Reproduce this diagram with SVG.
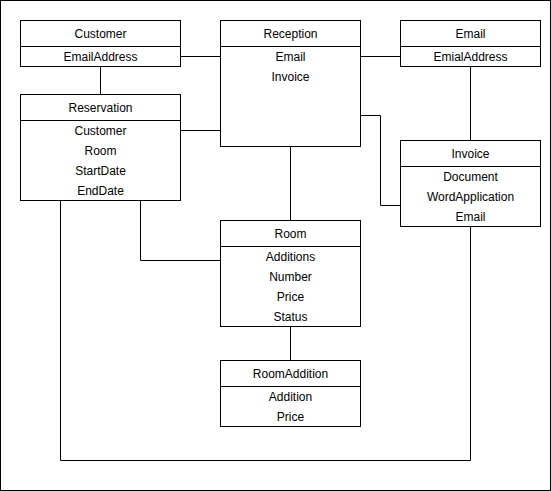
<svg xmlns="http://www.w3.org/2000/svg" width="551" height="491" viewBox="0 0 551 491">
<style>
rect.box{fill:#ffffff;stroke:#000000;stroke-width:1}
line,path{stroke:#000000;stroke-width:1;fill:none}
text{font-family:"Liberation Sans",Arial,sans-serif;font-size:12px;fill:#000000;text-anchor:middle;dominant-baseline:central}
</style>
<rect x="0.5" y="0.5" width="550" height="490" fill="#ffffff" stroke="#000000"/>
<g id="connectors">
<path d="M180.5 56.5H220.5"/>
<path d="M100.5 66.5V94.5"/>
<path d="M180.5 130.5H220.5"/>
<path d="M360.5 56.5H400.5"/>
<path d="M470.5 66.5V140.5"/>
<path d="M360.5 115.5H380.5V205.5H400.5"/>
<path d="M290.5 146.5V220.5"/>
<path d="M140.5 200.5V260.5H220.5"/>
<path d="M290.5 326.5V360.5"/>
<path d="M60.5 200.5V460.5H470.5V226.5"/>
</g>
<g id="customer">
<rect class="box" x="20.5" y="20.5" width="160" height="46"/>
<line x1="20.5" y1="46.5" x2="180.5" y2="46.5"/>
<text x="100.5" y="34">Customer</text>
<text x="100.5" y="56.5">EmailAddress</text>
</g>
<g id="reservation">
<rect class="box" x="20.5" y="94.5" width="160" height="106"/>
<line x1="20.5" y1="120.5" x2="180.5" y2="120.5"/>
<text x="100.5" y="108">Reservation</text>
<text x="100.5" y="130.5">Customer</text>
<text x="100.5" y="150.5">Room</text>
<text x="100.5" y="170.5">StartDate</text>
<text x="100.5" y="190.5">EndDate</text>
</g>
<g id="reception">
<rect class="box" x="220.5" y="20.5" width="140" height="126"/>
<line x1="220.5" y1="46.5" x2="360.5" y2="46.5"/>
<text x="290.5" y="34">Reception</text>
<text x="290.5" y="56.5">Email</text>
<text x="290.5" y="76.5">Invoice</text>
</g>
<g id="email">
<rect class="box" x="400.5" y="20.5" width="140" height="46"/>
<line x1="400.5" y1="46.5" x2="540.5" y2="46.5"/>
<text x="470.5" y="34">Email</text>
<text x="470.5" y="56.5">EmialAddress</text>
</g>
<g id="invoice">
<rect class="box" x="400.5" y="140.5" width="140" height="86"/>
<line x1="400.5" y1="166.5" x2="540.5" y2="166.5"/>
<text x="470.5" y="154">Invoice</text>
<text x="470.5" y="176.5">Document</text>
<text x="470.5" y="196.5">WordApplication</text>
<text x="470.5" y="216.5">Email</text>
</g>
<g id="room">
<rect class="box" x="220.5" y="220.5" width="140" height="106"/>
<line x1="220.5" y1="246.5" x2="360.5" y2="246.5"/>
<text x="290.5" y="234">Room</text>
<text x="290.5" y="256.5">Additions</text>
<text x="290.5" y="276.5">Number</text>
<text x="290.5" y="296.5">Price</text>
<text x="290.5" y="316.5">Status</text>
</g>
<g id="roomaddition">
<rect class="box" x="220.5" y="360.5" width="140" height="66"/>
<line x1="220.5" y1="386.5" x2="360.5" y2="386.5"/>
<text x="290.5" y="374">RoomAddition</text>
<text x="290.5" y="396.5">Addition</text>
<text x="290.5" y="416.5">Price</text>
</g>
</svg>
